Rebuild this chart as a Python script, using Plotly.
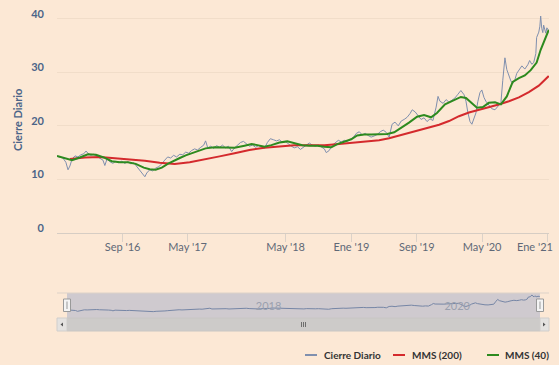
import plotly.graph_objects as go

W, H = 559, 365

# ---------------- data ----------------
close_dates = [
    "2016-01-01", "2016-01-12", "2016-01-23", "2016-02-03", "2016-02-11", "2016-02-18", "2016-02-26",
    "2016-03-08", "2016-03-19", "2016-03-30", "2016-04-10", "2016-04-18", "2016-04-25", "2016-05-06",
    "2016-05-17", "2016-05-28", "2016-06-09", "2016-06-20", "2016-06-27", "2016-07-05", "2016-07-16",
    "2016-07-27", "2016-08-07", "2016-08-18", "2016-08-29", "2016-09-09", "2016-09-21", "2016-10-02",
    "2016-10-13", "2016-10-24", "2016-11-04", "2016-11-15", "2016-11-23", "2016-11-30", "2016-12-11",
    "2016-12-22", "2017-01-02", "2017-01-14", "2017-01-25", "2017-02-05", "2017-02-16", "2017-02-27",
    "2017-03-10", "2017-03-21", "2017-04-02", "2017-04-13", "2017-04-24", "2017-05-05", "2017-05-16",
    "2017-05-27", "2017-06-07", "2017-06-19", "2017-06-30", "2017-07-07", "2017-07-15", "2017-07-26",
    "2017-08-06", "2017-08-17", "2017-08-28", "2017-09-08", "2017-09-19", "2017-09-30", "2017-10-12",
    "2017-10-23", "2017-11-03", "2017-11-14", "2017-11-25", "2017-12-06", "2017-12-17", "2017-12-29",
    "2018-01-09", "2018-01-20", "2018-01-31", "2018-02-11", "2018-02-22", "2018-03-05", "2018-03-17",
    "2018-03-28", "2018-04-08", "2018-04-19", "2018-04-30", "2018-05-11", "2018-05-22", "2018-06-02",
    "2018-06-14", "2018-06-25", "2018-07-06", "2018-07-17", "2018-07-28", "2018-08-08", "2018-08-19",
    "2018-08-31", "2018-09-11", "2018-09-22", "2018-09-29", "2018-10-10", "2018-10-22", "2018-11-02",
    "2018-11-13", "2018-11-24", "2018-12-05", "2018-12-16", "2018-12-27", "2019-01-07", "2019-01-19",
    "2019-01-30", "2019-02-10", "2019-02-21", "2019-03-04", "2019-03-15", "2019-03-26", "2019-04-07",
    "2019-04-18", "2019-04-29", "2019-05-10", "2019-05-21", "2019-06-01", "2019-06-12", "2019-06-24",
    "2019-07-05", "2019-07-16", "2019-07-27", "2019-08-07", "2019-08-15", "2019-08-26", "2019-09-06",
    "2019-09-17", "2019-09-28", "2019-10-09", "2019-10-20", "2019-10-31", "2019-11-12", "2019-11-19",
    "2019-11-26", "2019-12-08", "2019-12-19", "2019-12-30", "2020-01-10", "2020-01-21", "2020-02-01",
    "2020-02-12", "2020-02-24", "2020-03-02", "2020-03-09", "2020-03-17", "2020-03-24", "2020-04-01",
    "2020-04-08", "2020-04-15", "2020-04-23", "2020-04-30", "2020-05-08", "2020-05-15", "2020-05-26",
    "2020-06-06", "2020-06-18", "2020-06-29", "2020-07-10", "2020-07-17", "2020-07-25", "2020-08-01",
    "2020-08-09", "2020-08-16", "2020-08-23", "2020-08-31", "2020-09-07", "2020-09-15", "2020-09-26",
    "2020-10-07", "2020-10-18", "2020-10-25", "2020-11-02", "2020-11-09", "2020-11-17", "2020-11-20",
    "2020-11-28", "2020-12-02", "2020-12-05", "2020-12-09", "2020-12-13", "2020-12-16", "2020-12-20",
    "2020-12-24", "2020-12-28", "2021-01-04",
]
close_values = [
    14.3, 14.2, 14.0, 13.2, 11.8, 12.5, 13.8,
    14.4, 14.2, 14.6, 14.8, 15.3, 14.9, 14.5,
    14.7, 14.3, 14.0, 13.6, 12.6, 13.8, 13.3,
    13.0, 13.4, 13.1, 13.4, 13.0, 13.3, 12.9,
    13.1, 12.4, 11.5, 10.8, 10.5, 11.2, 11.8,
    11.6, 12.1, 12.4, 12.9, 13.6, 14.2, 14.0,
    14.5, 14.2, 14.7, 14.6, 15.1, 14.9, 15.4,
    15.7, 15.5, 16.0, 16.4, 17.2, 15.9, 16.2,
    15.8, 16.3, 16.0, 16.4, 15.9, 16.2, 15.2,
    15.9, 16.4, 16.9, 17.1, 16.6, 16.2, 16.4,
    16.0, 16.3, 16.1, 15.8, 16.9, 17.6, 17.4,
    17.2, 17.4, 16.9, 17.1, 16.6, 16.2, 15.9,
    16.1, 15.6, 16.0, 16.5, 16.8, 16.4, 16.2,
    16.4, 16.0, 15.7, 15.0, 15.4, 16.4, 16.9,
    17.3, 17.0, 17.3, 17.1, 17.4, 17.8, 18.6,
    18.9, 18.3, 18.6, 18.2, 17.9, 18.1, 18.4,
    18.9, 19.2, 18.8, 17.9, 20.3, 20.7, 20.0,
    20.9, 21.2, 21.6, 22.3, 23.0, 22.6, 22.0,
    21.2, 21.5, 20.8, 21.3, 21.0, 23.5, 25.5,
    24.6, 24.2, 24.9, 24.4, 24.8, 25.2, 25.9,
    26.6, 25.8, 24.6, 22.5, 20.8, 20.3, 21.3,
    22.4, 24.5, 26.2, 26.7, 25.3, 24.6, 23.8,
    23.2, 23.0, 23.6, 24.3, 28.5, 32.7, 30.5,
    29.2, 28.4, 27.9, 28.6, 29.8, 30.3, 31.2,
    30.6, 31.4, 32.2, 31.5, 31.8, 33.5, 36.5,
    37.5, 38.6, 40.5, 38.2, 37.4, 38.8, 38.0,
    37.3, 38.3, 37.8,
]

mms200_dates = [
    "2016-02-18", "2016-04-14", "2016-06-09", "2016-08-03", "2016-09-28", "2016-11-23", "2017-01-17",
    "2017-03-14", "2017-05-09", "2017-07-03", "2017-08-28", "2017-10-23", "2017-12-17", "2018-02-11",
    "2018-04-08", "2018-06-02", "2018-07-28", "2018-09-22", "2018-11-16", "2019-01-11", "2019-03-08",
    "2019-04-14", "2019-05-21", "2019-06-27", "2019-08-03", "2019-09-09", "2019-10-17", "2019-11-23",
    "2019-12-30", "2020-02-05", "2020-03-13", "2020-04-19", "2020-05-26", "2020-07-02", "2020-08-09",
    "2020-09-15", "2020-10-22", "2020-11-28", "2021-01-04",
]
mms200_values = [
    13.8, 14.1, 14.2, 14.0, 13.8, 13.5, 13.1,
    12.9, 13.2, 13.7, 14.3, 14.9, 15.5, 15.9,
    16.2, 16.4, 16.4, 16.4, 16.6, 16.9, 17.1,
    17.3, 17.7, 18.2, 18.7, 19.2, 19.7, 20.2,
    20.9, 21.8, 22.5, 23.0, 23.4, 24.0, 24.6,
    25.3, 26.3, 27.5, 29.3,
]

mms40_dates = [
    "2016-01-01", "2016-01-31", "2016-02-26", "2016-03-26", "2016-04-25", "2016-05-25", "2016-06-23",
    "2016-07-23", "2016-08-22", "2016-09-21", "2016-10-20", "2016-11-19", "2016-12-11", "2017-01-02",
    "2017-01-25", "2017-02-16", "2017-03-10", "2017-04-02", "2017-04-24", "2017-05-16", "2017-06-07",
    "2017-07-07", "2017-08-09", "2017-09-16", "2017-10-23", "2017-11-29", "2017-12-25", "2018-01-16",
    "2018-02-11", "2018-03-09", "2018-04-08", "2018-05-07", "2018-06-02", "2018-07-02", "2018-07-28",
    "2018-08-27", "2018-09-22", "2018-10-18", "2018-11-09", "2018-12-05", "2018-12-31", "2019-01-22",
    "2019-02-17", "2019-03-15", "2019-04-14", "2019-05-14", "2019-06-09", "2019-07-05", "2019-08-03",
    "2019-09-02", "2019-09-28", "2019-10-24", "2019-11-15", "2019-12-15", "2020-01-17", "2020-02-12",
    "2020-03-02", "2020-03-21", "2020-04-12", "2020-05-04", "2020-05-26", "2020-06-18", "2020-07-10",
    "2020-08-01", "2020-08-23", "2020-09-15", "2020-10-07", "2020-10-29", "2020-11-20", "2020-12-05",
    "2020-12-20", "2021-01-04",
]
mms40_values = [
    14.4, 14.0, 13.6, 14.1, 14.7, 14.6, 14.1,
    13.4, 13.2, 13.2, 12.9, 12.2, 11.9, 11.8,
    12.2, 12.9, 13.5, 14.0, 14.5, 14.9, 15.4,
    15.8, 16.0, 16.0, 15.9, 16.3, 16.6, 16.4,
    16.1, 16.4, 16.9, 17.1, 16.8, 16.4, 16.3,
    16.3, 16.1, 16.0, 16.6, 17.1, 17.5, 18.2,
    18.4, 18.4, 18.4, 18.5, 18.8, 19.6, 20.6,
    21.7, 22.0, 21.6, 22.4, 24.0, 24.7, 25.4,
    25.2, 24.3, 23.4, 23.5, 24.3, 24.4, 24.0,
    25.5, 28.2, 28.9, 29.4, 30.4, 31.8, 34.2,
    36.0, 37.9,
]

x_tick_dates = ["2016-09-01", "2017-05-01", "2018-05-01", "2019-01-01", "2019-09-01", "2020-05-01", "2021-01-01"]
x_tick_labels = ["Sep '16", "May '17", "May '18", "Ene '19", "Sep '19", "May '20", ""]
last_tick_label = "Ene '21"
y_tick_values = [0, 10, 20, 30, 40]
nav_tick_dates = ["2018-01-01", "2020-01-01"]
nav_tick_labels = ["2018", "2020"]
series_names = ["Cierre Diario", "MMS (200)", "MMS (40)"]
y_title = "Cierre Diario"

# ---------------- styles ----------------
BG = "#fce8d5"
C_CLOSE = "#7f8fae"
C_200 = "#d42a2d"
C_40 = "#2d8a1f"
FONT = "Lato, 'Open Sans', sans-serif"
AX_BLUE = "#4b6488"
XRANGE = ["2016-01-01", "2021-01-05"]


def px(x):
    return x / W


def py(y):
    return 1 - y / H


fig = go.Figure()
fig.add_trace(go.Scatter(x=close_dates, y=close_values, name=series_names[0], mode="lines",
                         line=dict(color=C_CLOSE, width=1), xaxis="x", yaxis="y"))
fig.add_trace(go.Scatter(x=mms200_dates, y=mms200_values, name=series_names[1], mode="lines",
                         line=dict(color=C_200, width=2), xaxis="x", yaxis="y"))
fig.add_trace(go.Scatter(x=mms40_dates, y=mms40_values, name=series_names[2], mode="lines",
                         line=dict(color=C_40, width=2), xaxis="x", yaxis="y"))
# navigator series
fig.add_trace(go.Scatter(x=close_dates, y=close_values, name=series_names[0], mode="lines",
                         line=dict(color="#7686a6", width=1), xaxis="x2", yaxis="y2",
                         hoverinfo="skip"))

shapes = []
# navigator mask + outline
shapes.append(dict(type="rect", xref="paper", yref="paper", x0=px(67), x1=px(540), y0=py(318), y1=py(293),
                   fillcolor="rgba(102,133,194,0.3)", line=dict(width=0), layer="below"))
shapes.append(dict(type="line", xref="paper", yref="paper", x0=px(57), x1=px(549), y0=py(293), y1=py(293),
                   line=dict(color="#ddd2c8", width=1)))
# scrollbar track and thumb
shapes.append(dict(type="rect", xref="paper", yref="paper", x0=px(57), x1=px(549), y0=py(331), y1=py(318),
                   fillcolor="#d4d1ce", line=dict(width=0)))
shapes.append(dict(type="rect", xref="paper", yref="paper", x0=px(67), x1=px(540), y0=py(331), y1=py(318),
                   fillcolor="#cdcbc9", line=dict(color="#c8c6c4", width=1)))
# scrollbar buttons
for bx0, bx1 in ((57, 67), (540, 549)):
    shapes.append(dict(type="rect", xref="paper", yref="paper", x0=px(bx0), x1=px(bx1), y0=py(331), y1=py(318),
                       fillcolor="#e4e2e0", line=dict(color="#d0cecc", width=1)))
# arrows
shapes.append(dict(type="path", xref="paper", yref="paper",
                   path=f"M {px(60.5)} {py(324.5)} L {px(63)} {py(322.5)} L {px(63)} {py(326.5)} Z",
                   fillcolor="#555555", line=dict(width=0)))
shapes.append(dict(type="path", xref="paper", yref="paper",
                   path=f"M {px(545.5)} {py(324.5)} L {px(543)} {py(322.5)} L {px(543)} {py(326.5)} Z",
                   fillcolor="#555555", line=dict(width=0)))
# rifles
for rx in (301.5, 303.5, 305.5):
    shapes.append(dict(type="line", xref="paper", yref="paper", x0=px(rx), x1=px(rx), y0=py(327), y1=py(322),
                       line=dict(color="#555555", width=0.8)))
# navigator handles
for hx in (67, 540):
    shapes.append(dict(type="rect", xref="paper", yref="paper", x0=px(hx - 3.5), x1=px(hx + 3.5),
                       y0=py(311.5), y1=py(299), fillcolor="#f4f4f4", line=dict(color="#999999", width=1)))
    shapes.append(dict(type="line", xref="paper", yref="paper", x0=px(hx), x1=px(hx), y0=py(309), y1=py(301.5),
                       line=dict(color="#999999", width=1)))

# legend (drawn by hand to match the short line symbols)
legend_items = [(305, 317, 322, C_CLOSE), (393, 405, 410, C_200), (487, 499, 503, C_40)]
annotations = []
for (lx0, lx1, tx, col), name in zip(legend_items, series_names):
    shapes.append(dict(type="line", xref="paper", yref="paper", x0=px(lx0), x1=px(lx1), y0=py(355), y1=py(355),
                       line=dict(color=col, width=2)))
    annotations.append(dict(text=name, xref="paper", yref="paper", x=px(tx), y=py(355), xanchor="left",
                            yanchor="middle", showarrow=False,
                            font=dict(family=FONT, size=10, color="#333333", weight="bold")))

annotations.append(dict(text=y_title, xref="paper", yref="paper", x=px(17), y=py(120), textangle=-90,
                        xanchor="center", yanchor="middle", showarrow=False,
                        font=dict(family=FONT, size=11, color=AX_BLUE, weight="bold")))
annotations.append(dict(text=last_tick_label, xref="paper", yref="paper", x=px(535), y=py(246),
                        xanchor="center", yanchor="middle", showarrow=False,
                        font=dict(family=FONT, size=11, color="#5f6877")))

fig.update_layout(
    template="none",
    width=W, height=H,
    margin=dict(l=0, r=0, t=0, b=0),
    paper_bgcolor=BG, plot_bgcolor="rgba(0,0,0,0)",
    showlegend=False,
    xaxis=dict(domain=[px(57), px(549)], range=XRANGE, type="date",
               tickmode="array", tickvals=x_tick_dates, ticktext=x_tick_labels,
               ticks="outside", ticklen=8, tickcolor="#dcd2c8", tickwidth=1,
               ticklabelstandoff=-4,
               showline=True, linecolor="#d6cdc4", linewidth=1,
               showgrid=False, zeroline=False, automargin=False,
               tickfont=dict(family=FONT, size=11, color="#5f6877")),
    yaxis=dict(domain=[py(233), py(8)], range=[0, 42],
               tickmode="array", tickvals=y_tick_values,
               showgrid=True, gridcolor="#f1ddc9", gridwidth=1,
               zeroline=False, showline=False, ticks="", automargin=False,
               ticklabelstandoff=12, ticklabelshift=-5,
               tickfont=dict(family=FONT, size=11, color=AX_BLUE, weight="bold")),
    xaxis2=dict(domain=[px(67), px(540)], anchor="y2", range=XRANGE, type="date",
                tickmode="array", tickvals=nav_tick_dates, ticktext=nav_tick_labels,
                ticklabelposition="inside right", ticks="", showgrid=False, showline=False,
                zeroline=False, automargin=False,
                tickfont=dict(family=FONT, size=11, color="#9aa0ae")),
    yaxis2=dict(domain=[py(318), py(293)], anchor="x2", range=[0, 44], visible=False),
    shapes=shapes,
    annotations=annotations,
)

fig.write_html("out.html", config={"displayModeBar": False},
               post_script="document.body.style.margin='0';document.body.style.overflow='hidden';")
